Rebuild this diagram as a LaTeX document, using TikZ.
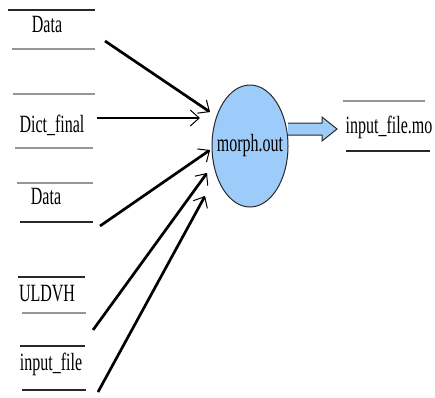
\documentclass[tikz,border=0pt]{standalone}
\usepackage{fontspec}
\setmainfont{Liberation Serif}
\usepackage{graphicx}
\usetikzlibrary{arrows.meta,shapes.geometric}
\definecolor{bubble}{RGB}{158,204,250}
\definecolor{lgrey}{RGB}{150,150,150}
\definecolor{dgrey}{RGB}{40,40,40}
\tikzset{
  lbl/.style={inner sep=0pt, font=\fontsize{16}{18}\selectfont},
  storeline/.style={line width=2pt},
  flow/.style={line width=2.7pt, -{Straight Barb[line width=1pt,length=9pt,width=16pt]}},
}
\newcommand{\tall}[1]{\scalebox{1}[1.55]{#1}}
\begin{document}
\begin{tikzpicture}[x=1pt,y=-1pt]
\useasboundingbox (0,0) rectangle (435,397);
% stores
\draw[storeline,dgrey] (8,10) -- (95,10);
\draw[storeline,lgrey] (12,49) -- (95,49);
\draw[storeline,lgrey] (13,94) -- (95,94);
\draw[storeline,lgrey] (15,148) -- (93,148);
\draw[storeline,lgrey] (17,183) -- (93,183);
\draw[storeline,dgrey] (20,222) -- (93,222);
\draw[storeline,dgrey] (18,277) -- (85,277);
\draw[storeline,lgrey] (22,313) -- (86,313);
\draw[storeline,dgrey] (20,346) -- (85,346);
\draw[storeline,dgrey] (22,390) -- (86,390);
\draw[storeline,lgrey] (343,101) -- (425,101);
\draw[storeline,dgrey] (346,151) -- (430,151);
% labels
\node[lbl] (d1) at (47,24) {\tall{Data}};
\node[lbl] (dict) at (52,125) {\tall{Dict\_final}};
\node[lbl] (d2) at (46,196) {\tall{Data}};
\node[lbl] (uld) at (47,294) {\tall{ULDVH}};
\node[lbl] (inp) at (51,364) {\tall{input\_file}};
\node[lbl] (out) at (389,127) {\tall{input\_file.mo}};
% process
\node[draw=dgrey, line width=1pt, fill=bubble, ellipse, minimum width=76pt, minimum height=122pt, inner sep=0pt] (morph) at (250,146) {};
\node[lbl] (morphtxt) at (morph.center) {\tall{morph.out}};
% input arrows
\coordinate (s1) at (105,41);  \coordinate (t1) at (210,112);
\coordinate (s2) at (97,118);  \coordinate (t2) at (200,118);
\coordinate (s3) at (100,226); \coordinate (t3) at (210,150);
\coordinate (s4) at (93,330);  \coordinate (t4) at (207,173);
\coordinate (s5) at (98,392);  \coordinate (t5) at (205,196);
\draw[flow] (s1) -- (t1);
\draw[flow] (s2) -- (t2);
\draw[flow] (s3) -- (t3);
\draw[flow] (s4) -- (t4);
\draw[flow] (s5) -- (t5);
% output arrow
\draw[fill=bubble, draw=dgrey, line width=1pt]
  (288,123) -- (322,123) -- (322,117) -- (337,129) -- (322,141) -- (322,135) -- (288,135);
\end{tikzpicture}
\end{document}
